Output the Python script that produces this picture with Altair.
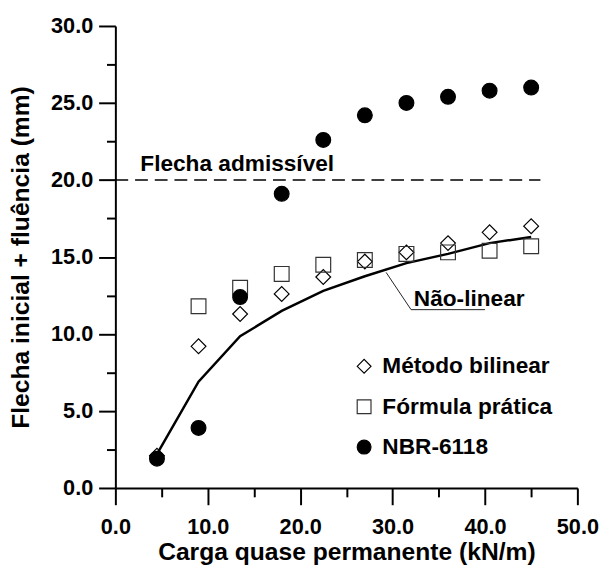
import altair as alt
import pandas as pd

# ---- data ----
LOAD = [4.5, 9.0, 13.5, 18.0, 22.5, 27.0, 31.5, 36.0, 40.5, 45.0]
BILINEAR = [2.1, 9.2, 11.3, 12.6, 13.7, 14.7, 15.3, 15.9, 16.6, 17.0]
PRATICA_LOAD = [9.0, 13.5, 18.0, 22.5, 27.0, 31.5, 36.0, 40.5, 45.0]
PRATICA = [11.8, 13.0, 13.9, 14.5, 14.8, 15.2, 15.3, 15.4, 15.7]
NBR = [1.9, 3.9, 12.4, 19.1, 22.6, 24.2, 25.0, 25.4, 25.8, 26.0]
NAO_LINEAR = [2.2, 6.9, 9.85, 11.5, 12.8, 13.75, 14.6, 15.2, 15.9, 16.3]

SERIES = ["Método bilinear", "Fórmula prática", "NBR-6118"]
LIMIT_Y = 20.0
LIMIT_X = [0.0, 46.0]
LIMIT_LABEL = "Flecha admissível"
LIMIT_LABEL_POS = [2.7, 20.6]
CURVE_LABEL = "Não-linear"
CURVE_LABEL_POS = [32.3, 11.8]
LEADER_X = [29.3, 32.0, 40.0]
LEADER_Y = [14.0, 11.58, 11.58]

X_TITLE = "Carga quase permanente (kN/m)"
Y_TITLE = "Flecha inicial + fluência (mm)"
X_TICKS = [0, 5, 10, 15, 20, 25, 30, 35, 40, 45, 50]
Y_TICKS = [0, 2.5, 5, 7.5, 10, 12.5, 15, 17.5, 20, 22.5, 25, 27.5, 30]

FONT = "Liberation Sans"

rows = []
for x, y in zip(LOAD, BILINEAR):
    rows.append({"x": x, "y": y, "serie": SERIES[0]})
for x, y in zip(PRATICA_LOAD, PRATICA):
    rows.append({"x": x, "y": y, "serie": SERIES[1]})
for x, y in zip(LOAD, NBR):
    rows.append({"x": x, "y": y, "serie": SERIES[2]})
pts = pd.DataFrame(rows)
curve = pd.DataFrame({"x": LOAD, "y": NAO_LINEAR})
leader = pd.DataFrame({"x": LEADER_X, "y": LEADER_Y, "o": list(range(len(LEADER_X)))})
limit = pd.DataFrame({"x": [LIMIT_X[0]], "x2": [LIMIT_X[1]], "y": [LIMIT_Y]})
lbl1 = pd.DataFrame({"x": [LIMIT_LABEL_POS[0]], "y": [LIMIT_LABEL_POS[1]], "t": [LIMIT_LABEL]})
lbl2 = pd.DataFrame({"x": [CURVE_LABEL_POS[0]], "y": [CURVE_LABEL_POS[1]], "t": [CURVE_LABEL]})

xscale = alt.Scale(domain=[0, 50], nice=False, zero=False)
yscale = alt.Scale(domain=[0, 30], nice=False, zero=False)

xaxis = alt.Axis(
    title=X_TITLE, values=X_TICKS, grid=False,
    labelExpr="datum.value % 10 === 0 ? format(datum.value, '.1f') : ''",
    tickSize={"condition": {"test": "datum.value % 10 === 0", "value": 17}, "value": 9},
    labelPadding=12, titleY=73, titleBaseline="alphabetic",
)
yaxis = alt.Axis(
    title=Y_TITLE, values=Y_TICKS, grid=False,
    labelExpr="datum.value % 5 === 0 ? format(datum.value, '.1f') : ''",
    tickSize={"condition": {"test": "datum.value % 5 === 0", "value": 17}, "value": 9},
    labelPadding=6, titleX=-96, titleBaseline="middle", titleAngle=270,
)

X = alt.X("x:Q", scale=xscale, axis=xaxis)
Y = alt.Y("y:Q", scale=yscale, axis=yaxis)

limit_rule = alt.Chart(limit).mark_rule(
    color="black", strokeWidth=1.5, strokeDash=[13, 7]
).encode(x=X, x2="x2:Q", y=Y)

curve_line = alt.Chart(curve).mark_line(color="black", strokeWidth=2.5).encode(x=X, y=Y)

leader_line = alt.Chart(leader).mark_line(color="#222", strokeWidth=1).encode(
    x=X, y=Y, order="o:Q"
)

legend = alt.Legend(title=None, orient="none", legendX=241, legendY=334,
                    symbolSize=196, symbolStrokeWidth=1.2,
                    labelFont=FONT, labelFontSize=23, labelFontWeight="bold",
                    labelColor="black", labelOffset=7, rowPadding=17,
                    labelLimit=0, padding=0)

points = alt.Chart(pts).mark_point(strokeWidth=1.2, opacity=1).encode(
    x=X, y=Y,
    shape=alt.Shape("serie:N", scale=alt.Scale(domain=SERIES, range=["diamond", "square", "circle"]),
                    legend=legend),
    fill=alt.Fill("serie:N", scale=alt.Scale(domain=SERIES, range=["transparent", "transparent", "black"]),
                  legend=legend),
    stroke=alt.Stroke("serie:N", scale=alt.Scale(domain=SERIES, range=["black", "#333333", "black"]),
                      legend=legend),
    size=alt.value(225),
)

text1 = alt.Chart(lbl1).mark_text(
    font=FONT, fontSize=23, fontWeight="bold", align="left", baseline="alphabetic", color="black"
).encode(x=X, y=Y, text="t:N")
text2 = alt.Chart(lbl2).mark_text(
    font=FONT, fontSize=23, fontWeight="bold", align="left", baseline="alphabetic", color="black"
).encode(x=X, y=Y, text="t:N")

chart = alt.layer(limit_rule, curve_line, leader_line, points, text1, text2).properties(
    width=469, height=469,
    padding={"left": 109, "top": 14, "right": 25, "bottom": 78},
    autosize="none",
).configure_view(stroke=None).configure_axis(
    domainColor="black", domainWidth=2, tickColor="black", tickWidth=2,
    labelFont=FONT, labelFontSize=22, labelFontWeight="bold", labelColor="black",
    titleFont=FONT, titleFontSize=25, titleFontWeight="bold", titleColor="black",
    labelFlush=False, labelOverlap=False,
)

chart.save("out.html", embed_options={"renderer": "svg", "actions": False})
